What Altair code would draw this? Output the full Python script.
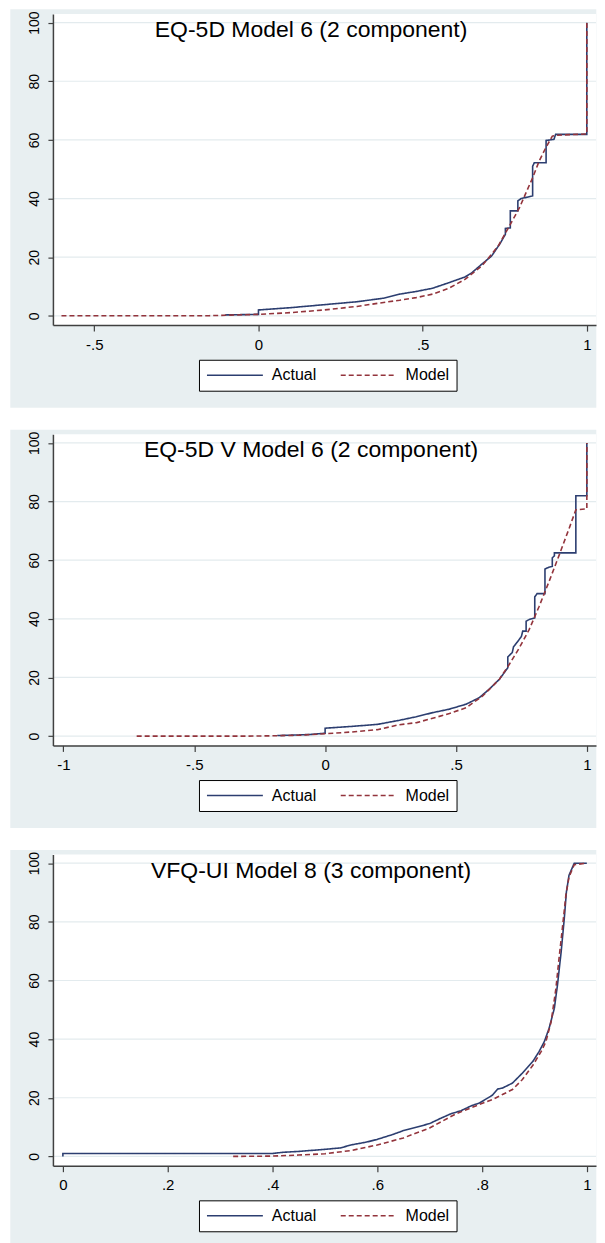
import altair as alt
import pandas as pd

FONT = "Liberation Sans"
BG = "#e8eff1"
GRID = "#e3ebee"
AXIS = "#404040"
ACTUAL_COLOR = "#2c3e70"
MODEL_COLOR = "#93343c"

titles = [
    "EQ-5D Model 6 (2 component)",
    "EQ-5D V Model 6 (2 component)",
    "VFQ-UI Model 8 (3 component)",
]
series_names = ["Actual", "Model"]
y_ticks = [0, 20, 40, 60, 80, 100]
y_domain = [-3.17, 102.93]

# ---- Panel 1: EQ-5D ----
p1_x_ticks = [-0.5, 0, 0.5, 1]
p1_x_domain = [-0.626, 1.028]
p1_actual_x = [-0.10, -0.10, 0.0, 0.0, 0.1, 0.2, 0.3, 0.38, 0.43, 0.48, 0.53, 0.58, 0.63, 0.65,
               0.68, 0.71, 0.735, 0.752, 0.752, 0.767, 0.767, 0.79, 0.79, 0.80, 0.835, 0.835,
               0.84, 0.876, 0.876, 0.90, 0.905, 1.0, 1.0]
p1_actual_y = [0.0, 0.3, 0.5, 2.0, 2.8, 3.8, 4.8, 6.0, 7.4, 8.3, 9.4, 11.3, 13.3, 14.7,
               17.6, 20.4, 24.5, 27.8, 29.8, 30.0, 35.8, 35.8, 39.2, 40.0, 40.9, 51.0,
               52.2, 52.2, 59.8, 60.2, 61.9, 61.9, 100.0]
p1_model_x = [-0.6, -0.3, -0.15, -0.1, 0.0, 0.1, 0.2, 0.3, 0.39, 0.43, 0.48, 0.53, 0.58, 0.63,
              0.68, 0.71, 0.73, 0.75, 0.77, 0.795, 0.815, 0.835, 0.855, 0.875, 0.895, 0.91,
              0.95, 1.0, 1.0]
p1_model_y = [0.0, 0.0, 0.05, 0.2, 0.5, 1.1, 2.0, 3.2, 4.7, 5.3, 6.2, 7.4, 9.4, 12.5,
              17.0, 21.0, 23.8, 27.8, 31.8, 36.9, 42.0, 47.1, 52.8, 57.3, 61.3, 61.6,
              61.8, 62.0, 100.0]

# ---- Panel 2: EQ-5D V ----
p2_x_ticks = [-1, -0.5, 0, 0.5, 1]
p2_x_domain = [-1.04, 1.035]
p2_actual_x = [-0.18, -0.18, -0.1, -0.05, 0.0, 0.0, 0.1, 0.2, 0.284, 0.348, 0.411, 0.475, 0.539,
               0.589, 0.627, 0.666, 0.698, 0.698, 0.715, 0.72, 0.732, 0.75, 0.755, 0.768, 0.768,
               0.78, 0.801, 0.801, 0.81, 0.84, 0.84, 0.855, 0.868, 0.868, 0.876, 0.876, 0.958,
               0.958, 1.0, 1.0]
p2_actual_y = [0.0, 0.2, 0.4, 0.6, 1.0, 2.7, 3.3, 4.0, 5.4, 6.6, 8.0, 9.2, 10.9,
               13.1, 16.0, 19.4, 23.3, 27.0, 28.5, 30.5, 31.8, 34.0, 35.8, 35.8, 39.2,
               39.8, 40.3, 47.5, 48.6, 48.6, 57.0, 57.6, 57.9, 60.8, 61.5, 62.5, 62.5,
               82.0, 82.0, 100.0]
p2_model_x = [-0.72, -0.3, -0.2, -0.1, 0.0, 0.1, 0.2, 0.284, 0.35, 0.411, 0.475, 0.539, 0.602,
              0.666, 0.704, 0.742, 0.78, 0.818, 0.856, 0.895, 0.933, 0.958, 1.0, 1.0]
p2_model_y = [0.0, 0.0, 0.1, 0.3, 0.8, 1.4, 2.2, 3.9, 4.6, 6.1, 7.7, 9.7, 13.7,
              19.4, 24.5, 30.1, 36.4, 44.3, 52.8, 61.9, 71.0, 77.2, 77.5, 100.0]

# ---- Panel 3: VFQ-UI ----
p3_x_ticks = [0, 0.2, 0.4, 0.6, 0.8, 1]
p3_x_domain = [-0.019, 1.0175]
p3_actual_x = [0.0, 0.0, 0.1, 0.2, 0.3, 0.4, 0.42, 0.45, 0.5, 0.53, 0.55, 0.58, 0.6, 0.63, 0.65,
               0.68, 0.7, 0.72, 0.74, 0.76, 0.78, 0.795, 0.82, 0.83, 0.839, 0.858, 0.877,
               0.897, 0.909, 0.919, 0.928, 0.938, 0.944, 0.951, 0.957, 0.961, 0.966, 0.976, 1.0]
p3_actual_y = [0.0, 1.0, 1.0, 1.0, 1.0, 1.0, 1.4, 1.7, 2.4, 2.9, 3.9, 4.9, 5.8, 7.5, 8.8,
               10.2, 11.2, 12.9, 14.5, 15.6, 17.3, 18.2, 20.9, 23.0, 23.3, 25.0, 28.4,
               32.4, 35.8, 39.2, 43.7, 50.5, 58.5, 69.8, 81.2, 90.2, 95.9, 100.0, 100.0]
p3_model_x = [0.325, 0.4, 0.45, 0.5, 0.55, 0.6, 0.65, 0.7, 0.75, 0.795, 0.82, 0.839, 0.858, 0.877,
              0.897, 0.913, 0.922, 0.932, 0.941, 0.947, 0.954, 0.96, 0.966, 0.976, 1.0]
p3_model_y = [0.0, 0.1, 0.45, 0.9, 2.0, 3.9, 6.3, 9.7, 14.5, 17.7, 19.4, 21.1, 22.8, 26.2,
              31.1, 35.8, 39.2, 46.0, 57.3, 67.6, 78.9, 89.1, 95.3, 99.5, 100.0]

W = 544
H = 311.6

LABEL_EXPR = "replace(replace(format(datum.value, '.1~f'), '0.', '.'), '\u2212', '-')"


def make_panel(title, ax, ay, mx, my, xticks, xdomain):
    rows = []
    for i, (x, y) in enumerate(zip(ax, ay)):
        rows.append({"x": x, "y": y, "series": "Actual", "i": i})
    for i, (x, y) in enumerate(zip(mx, my)):
        rows.append({"x": x, "y": y, "series": "Model", "i": i})
    df = pd.DataFrame(rows)

    yscale = alt.Scale(domain=y_domain, nice=False, zero=False)
    xscale = alt.Scale(domain=xdomain, nice=False, zero=False)
    yaxis = alt.Axis(values=y_ticks, grid=False, title=None, labelAngle=270,
                     labelAlign="center", labelBaseline="alphabetic", labelPadding=9.5,
                     tickSize=5, labelFontSize=14, zindex=1,
                     domainColor=AXIS, domainWidth=1.5, tickColor=AXIS, tickWidth=1.2,
                     labelColor="black", labelFont=FONT)
    xaxis = alt.Axis(values=xticks, grid=False, title=None, labelExpr=LABEL_EXPR,
                     tickSize=6, labelPadding=6, labelFontSize=15, zindex=1,
                     domainColor=AXIS, domainWidth=1.5, tickColor=AXIS, tickWidth=1.2,
                     labelColor="black", labelFont=FONT)

    one = alt.Data(values=[{}])
    bg = alt.Chart(one).mark_rect(color=BG).encode(
        x=alt.value(-42.7), x2=alt.value(544.3), y=alt.value(-4.7), y2=alt.value(394.3))
    plotbg = alt.Chart(one).mark_rect(color="white").encode(
        x=alt.value(0), x2=alt.value(W), y=alt.value(0), y2=alt.value(H))
    grid = alt.Chart(pd.DataFrame({"g": y_ticks})).mark_rule(color=GRID, strokeWidth=1.2).encode(
        y=alt.Y("g:Q", scale=yscale, axis=yaxis))

    legend = alt.Legend(orient="none", legendX=146.3, legendY=346.3, direction="horizontal",
                        title=None, zindex=1, clipHeight=17)
    lines = alt.Chart(df).mark_line(strokeWidth=1.6).encode(
        x=alt.X("x:Q", scale=xscale, axis=xaxis),
        y=alt.Y("y:Q", scale=yscale, axis=yaxis),
        color=alt.Color("series:N", scale=alt.Scale(domain=series_names,
                                                     range=[ACTUAL_COLOR, MODEL_COLOR]),
                        legend=legend),
        strokeDash=alt.StrokeDash("series:N", scale=alt.Scale(domain=series_names,
                                                               range=[[1, 0], [5, 3]]),
                                  legend=legend),
        order=alt.Order("i:Q"),
    )
    ttl = alt.Chart(one).mark_text(text=title, font=FONT, fontSize=23, color="black",
                                   align="center", baseline="alphabetic").encode(
        x=alt.value(258.6), y=alt.value(23))
    return alt.layer(bg, plotbg, grid, lines, ttl).properties(width=W, height=H)


panels = [
    make_panel(titles[0], p1_actual_x, p1_actual_y, p1_model_x, p1_model_y, p1_x_ticks, p1_x_domain),
    make_panel(titles[1], p2_actual_x, p2_actual_y, p2_model_x, p2_model_y, p2_x_ticks, p2_x_domain),
    make_panel(titles[2], p3_actual_x, p3_actual_y, p3_model_x, p3_model_y, p3_x_ticks, p3_x_domain),
]

chart = alt.vconcat(*panels, spacing=21).resolve_scale(
    color="independent", strokeDash="independent"
).resolve_legend(
    color="independent", strokeDash="independent"
).properties(
    padding={"left": 2, "top": 0, "right": 0, "bottom": 0},
    background="white",
).configure_view(
    stroke=None, fill=None
).configure_legend(
    strokeColor="black", fillColor="white", padding=7,
    labelFontSize=16, labelFont=FONT, labelColor="black",
    symbolType="stroke", symbolSize=3136, symbolStrokeWidth=1.5,
    labelOffset=8, columnPadding=23,
)

chart.save("out.html", embed_options={"renderer": "svg", "actions": False})
